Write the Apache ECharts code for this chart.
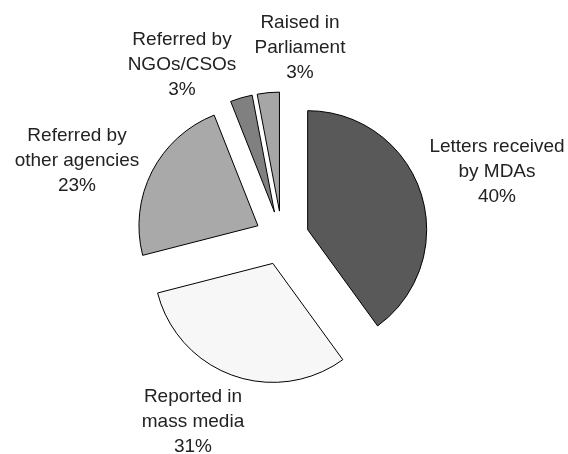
<!DOCTYPE html>
<html>
<head>
<meta charset="utf-8">
<script src="https://cdn.jsdelivr.net/npm/echarts@6/dist/echarts.min.js"></script>
<style>
html, body { margin: 0; padding: 0; background: #fff; }
#main { width: 568px; height: 454px; }
</style>
</head>
<body>
<div id="main"></div>
<script>
//分类名称
var categories = ['Letters received\nby MDAs', 'Reported in\nmass media', 'Referred by\nother agencies', 'Referred by\nNGOs/CSOs', 'Raised in\nParliament'];
//百分比
var shares = [40, 31, 23, 3, 3];
//颜色
var colors = ['#595959', '#f7f7f7', '#a9a9a9', '#808080', '#a6a6a6'];
//标签中心位置
var labelCenters = [[497, 172], [193, 422], [77, 161], [182, 65], [300, 48]];

var chart = echarts.init(document.getElementById('main'));

//扇区(全部分离)
var pieData = [];
//标签(用不可见的同尺寸饼图承载)
var labelData = [];
for (var i = 0; i < categories.length; i++) {
	pieData.push({
		name: categories[i],
		value: shares[i],
		selected: true,
		itemStyle: { color: colors[i] },
		select: { itemStyle: { color: colors[i], borderColor: '#000', borderWidth: 1 } }
	});
	labelData.push({ name: categories[i], value: shares[i] });
}

chart.setOption({
	animation: false,
	series: [{
		type: 'pie',
		center: [282, 238],
		radius: 119,
		startAngle: 90,
		clockwise: true,
		selectedMode: 'multiple',
		selectedOffset: 27,
		emphasis: { disabled: true },
		itemStyle: {
			borderColor: '#000',
			borderWidth: 1
		},
		label: { show: false },
		labelLine: { show: false },
		data: pieData
	}, {
		type: 'pie',
		center: [282, 238],
		radius: 119,
		startAngle: 90,
		clockwise: true,
		silent: true,
		z: 1,
		avoidLabelOverlap: false,
		emphasis: { disabled: true },
		itemStyle: {
			color: 'rgba(0,0,0,0)',
			borderWidth: 0
		},
		label: {
			show: true,
			position: 'outside',
			formatter: '{b}\n{d}%',
			fontFamily: 'Liberation Sans, Arial, sans-serif',
			fontSize: 19,
			lineHeight: 25,
			color: '#222',
			align: 'center'
		},
		labelLine: { show: false },
		labelLayout: function(params) {
			var c = labelCenters[params.dataIndex];
			return {
				x: c[0],
				y: c[1],
				align: 'center',
				verticalAlign: 'middle'
			};
		},
		data: labelData
	}]
});
</script>
</body>
</html>
